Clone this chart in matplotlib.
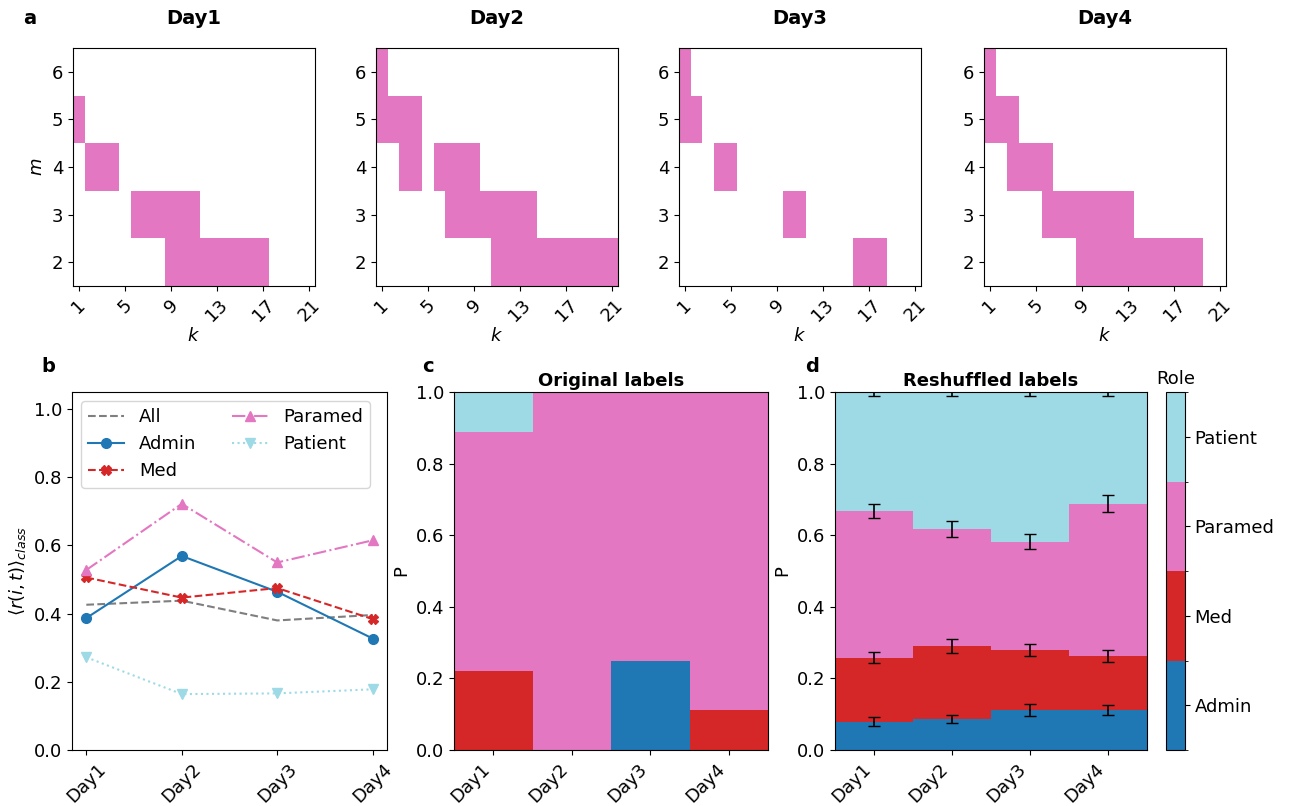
import numpy as np
import matplotlib
matplotlib.use('Agg')
import matplotlib.pyplot as plt
from matplotlib.colors import ListedColormap, BoundaryNorm

plt.rcParams['font.size'] = 13

days = ['Day1', 'Day2', 'Day3', 'Day4']
roles = ['Admin', 'Med', 'Paramed', 'Patient']
role_colors = ['#1f77b4', '#d62728', '#e377c2', '#9edae5']

# panel a: filled (m, k) cells, given as k ranges for each m
k_values = list(range(1, 22))
m_values = [2, 3, 4, 5, 6]
day1_cells = {6: [], 5: [(1, 1)], 4: [(2, 4)], 3: [(6, 11)], 2: [(9, 17)]}
day2_cells = {6: [(1, 1)], 5: [(1, 4)], 4: [(3, 4), (6, 9)], 3: [(7, 14)], 2: [(11, 21)]}
day3_cells = {6: [(1, 1)], 5: [(1, 2)], 4: [(4, 5)], 3: [(10, 11)], 2: [(16, 18)]}
day4_cells = {6: [(1, 1)], 5: [(1, 3)], 4: [(3, 6)], 3: [(6, 13)], 2: [(9, 19)]}

# panel b: mean r(i,t) per class
r_all = [0.426, 0.438, 0.380, 0.396]
r_admin = [0.387, 0.569, 0.464, 0.327]
r_med = [0.506, 0.447, 0.475, 0.384]
r_paramed = [0.528, 0.722, 0.550, 0.615]
r_patient = [0.272, 0.164, 0.166, 0.178]

# panel c: original label fractions
orig_admin = [0.0, 0.0, 0.25, 0.0]
orig_med = [0.222, 0.0, 0.0, 0.111]
orig_paramed = [0.667, 1.0, 0.75, 0.889]
orig_patient = [0.111, 0.0, 0.0, 0.0]

# panel d: reshuffled label fractions and errors
shuf_admin = [0.079, 0.087, 0.112, 0.112]
shuf_med = [0.179, 0.204, 0.168, 0.151]
shuf_paramed = [0.410, 0.327, 0.302, 0.425]
shuf_patient = [0.332, 0.382, 0.418, 0.312]
err_admin = [0.012, 0.012, 0.016, 0.015]
err_med = [0.016, 0.020, 0.017, 0.017]
err_paramed = [0.019, 0.022, 0.020, 0.023]
err_patient = [0.010, 0.012, 0.012, 0.010]

W, H = 1293, 806
fig = plt.figure(figsize=(W / 100, H / 100), dpi=100)


def box(x0, y0, x1, y1):
    return [x0 / W, 1 - y1 / H, (x1 - x0) / W, (y1 - y0) / H]


# ---- panel a
heat_cmap = ListedColormap(['white', '#e377c2'])
for i, (day, cells) in enumerate(zip(days, [day1_cells, day2_cells, day3_cells, day4_cells])):
    left = [73, 376, 679, 984][i]
    ax = fig.add_axes(box(left, 48, left + 242, 286))
    grid = np.zeros((len(m_values), len(k_values)))
    for m, ranges in cells.items():
        for k0, k1 in ranges:
            for k in range(k0, k1 + 1):
                grid[m_values.index(m), k_values.index(k)] = 1
    ax.imshow(grid, cmap=heat_cmap, vmin=0, vmax=1, origin='lower', aspect='auto',
              extent=(k_values[0] - 0.5, k_values[-1] + 0.5, m_values[0] - 0.5, m_values[-1] + 0.5),
              interpolation='nearest')
    ax.set_xticks([1, 5, 9, 13, 17, 21])
    ax.set_yticks(m_values)
    ax.tick_params(axis='x', labelrotation=45)
    ax.set_xlabel('$k$', labelpad=2)
    if i == 0:
        ax.set_ylabel('$m$')
    fig.text((left + 121) / W, 1 - 18 / H, day, fontsize=14, fontweight='bold', ha='center', va='center')
fig.text(30 / W, 1 - 18 / H, 'a', fontsize=14, fontweight='bold', ha='center', va='center')

# ---- panel b
x = np.arange(len(days))
axb = fig.add_axes(box(72, 392, 387, 750))
axb.plot(x, r_all, color='#7f7f7f', ls='--', lw=1.5, label='All')
axb.plot(x, r_admin, color='#1f77b4', ls='-', marker='o', ms=7, lw=1.5, label='Admin')
axb.plot(x, r_med, color='#d62728', ls='--', marker='X', ms=7, lw=1.5, label='Med')
axb.plot(x, r_paramed, color='#e377c2', ls='-.', marker='^', ms=7, lw=1.5, label='Paramed')
axb.plot(x, r_patient, color='#9edae5', ls=':', marker='v', ms=7, lw=1.5, label='Patient')
axb.set_ylim(0, 1.05)
axb.set_xticks(x)
axb.set_xticklabels(days, rotation=45)
axb.set_ylabel(r'$\langle r(i,t)\rangle_{class}$')
axb.legend(ncol=2, loc='upper left')
fig.text(48 / W, 1 - 367 / H, 'b', fontsize=14, fontweight='bold', ha='center', va='center')

# ---- panel c
axc = fig.add_axes(box(454, 392, 768, 750))
bottom = np.zeros(len(days))
for vals, col in zip([orig_admin, orig_med, orig_paramed, orig_patient], role_colors):
    axc.bar(x, vals, width=1.0, bottom=bottom, color=col)
    bottom += np.array(vals)
axc.set_xlim(-0.5, 3.5)
axc.set_ylim(0, 1)
axc.set_xticks(x)
axc.set_xticklabels(days, rotation=45, ha='right')
axc.set_ylabel('P')
axc.set_title('Original labels', fontsize=13, fontweight='bold', pad=4)
fig.text(428 / W, 1 - 367 / H, 'c', fontsize=14, fontweight='bold', ha='center', va='center')

# ---- panel d
axd = fig.add_axes(box(835, 392, 1147, 750))
bottom = np.zeros(len(days))
for vals, errs, col in zip([shuf_admin, shuf_med, shuf_paramed, shuf_patient],
                           [err_admin, err_med, err_paramed, err_patient], role_colors):
    axd.bar(x, vals, width=1.0, bottom=bottom, color=col)
    bottom += np.array(vals)
    axd.errorbar(x, bottom, yerr=errs, fmt='none', ecolor='black', elinewidth=1.2, capsize=4)
axd.set_xlim(-0.5, 3.5)
axd.set_ylim(0, 1)
axd.set_xticks(x)
axd.set_xticklabels(days, rotation=45, ha='right')
axd.set_ylabel('P')
axd.set_title('Reshuffled labels', fontsize=13, fontweight='bold', pad=4)
fig.text(812 / W, 1 - 367 / H, 'd', fontsize=14, fontweight='bold', ha='center', va='center')

# colorbar
cax = fig.add_axes(box(1166, 392, 1185, 750))
role_cmap = ListedColormap(role_colors)
norm = BoundaryNorm(np.arange(len(roles) + 1), role_cmap.N)
sm = matplotlib.cm.ScalarMappable(norm=norm, cmap=role_cmap)
cbar = fig.colorbar(sm, cax=cax, ticks=np.arange(len(roles)) + 0.5)
cbar.ax.set_yticklabels(roles)
cbar.ax.set_title('Role', fontsize=13, pad=6)

fig.savefig('out.png', dpi=100)
